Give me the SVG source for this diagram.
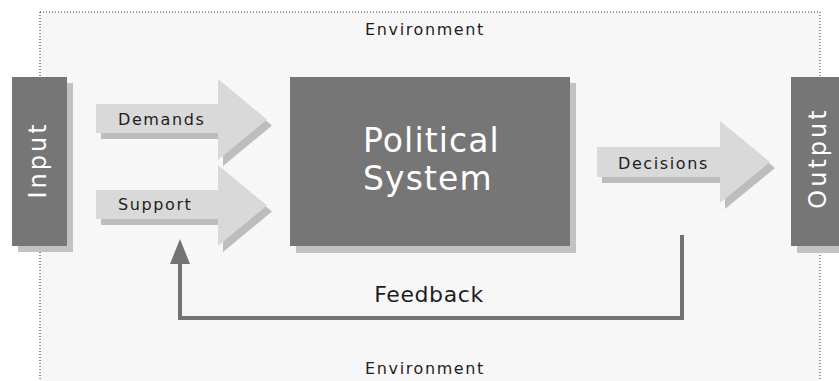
<svg xmlns="http://www.w3.org/2000/svg" width="839" height="381" viewBox="0 0 839 381">
<style>
.lbl{font-family:"DejaVu Sans",Verdana,sans-serif;font-size:16px;fill:#1e1e1e;letter-spacing:1.6px}
.side{font-family:"DejaVu Sans",Verdana,sans-serif;font-size:24px;fill:#ffffff;letter-spacing:3px;text-anchor:middle}
.box{fill:#767676}
.shadow{fill:#c2c2c2}
.arrow{fill:#d9d9d9}
.ash{fill:#bdbdbd}
.big{font-family:"DejaVu Sans",Verdana,sans-serif;font-size:33px;fill:#ffffff;letter-spacing:1.1px}
</style>
<defs>
<polygon id="arrowShape" points="0,0 122,0 122,-25 171,15.5 122,56 122,29 0,29"/>
</defs>
<rect width="839" height="381" fill="#ffffff"/>
<g id="environment">
<rect x="40" y="12" width="780" height="380" fill="#f7f7f7" stroke="#333" stroke-width="1" stroke-dasharray="1,2"/>
<text class="lbl" x="425" y="35" text-anchor="middle">Environment</text>
<text class="lbl" x="425" y="374" text-anchor="middle">Environment</text>
</g>
<g id="input">
<rect class="shadow" x="18" y="83" width="55" height="169"/>
<rect class="box" x="12" y="77" width="55" height="169"/>
<text class="side" transform="translate(46,160) rotate(-90)">Input</text>
</g>
<g id="output">
<rect class="shadow" x="797" y="83" width="55" height="170"/>
<rect class="box" x="791" y="77" width="55" height="169"/>
<text class="side" transform="translate(826,158) rotate(-90)">Output</text>
</g>
<g id="political-system">
<rect class="shadow" x="296" y="83" width="280" height="170"/>
<rect class="box" x="290" y="77" width="280" height="169"/>
<text class="big" x="363" y="152">Political</text>
<text class="big" x="363" y="190">System</text>
</g>
<g id="connectors">
<g id="demands">
<use href="#arrowShape" class="ash" x="101" y="110"/>
<use href="#arrowShape" class="arrow" x="96" y="104"/>
<text class="lbl" x="118" y="125">Demands</text>
</g>
<g id="support">
<use href="#arrowShape" class="ash" x="101" y="196"/>
<use href="#arrowShape" class="arrow" x="96" y="190"/>
<text class="lbl" x="118" y="210">Support</text>
</g>
<g id="decisions">
<polygon class="ash" transform="translate(602,153)" points="0,0 123,0 123,-26 173,15 123,56 123,30 0,30"/>
<polygon class="arrow" transform="translate(597,147)" points="0,0 123,0 123,-26 173,15 123,56 123,30 0,30"/>
<text class="lbl" x="618" y="169">Decisions</text>
</g>
<g id="feedback">
<polyline points="682,235 682,318 180,318 180,260" fill="none" stroke="#737373" stroke-width="4"/>
<polygon points="170,264 180,239 190,264" fill="#737373"/>
<text x="429" y="302" text-anchor="middle" font-family="DejaVu Sans, Verdana, sans-serif" font-size="22" fill="#1e1e1e" letter-spacing="0.6">Feedback</text>
</g>
</g>
</svg>
